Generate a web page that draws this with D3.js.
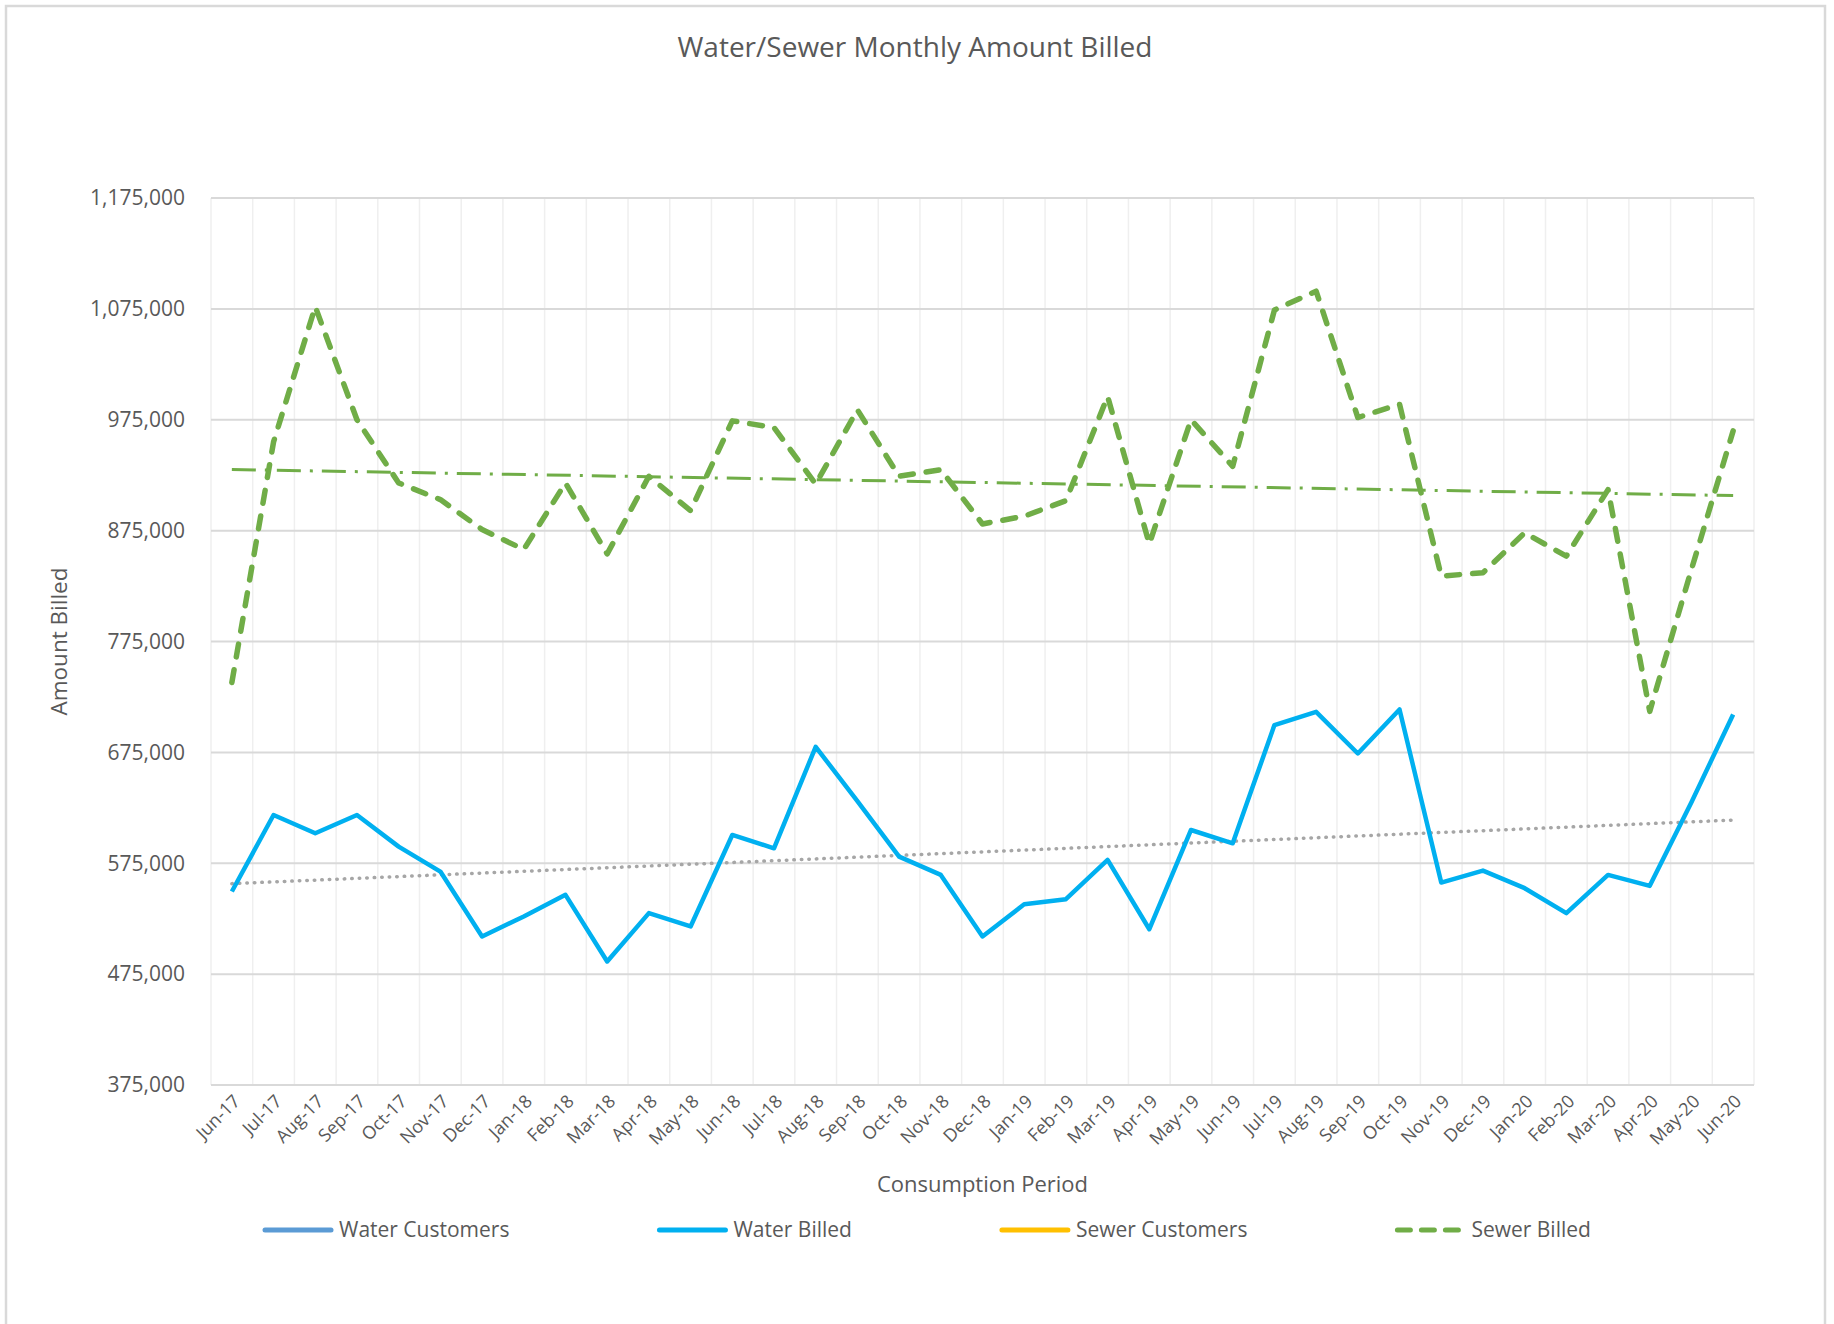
<!DOCTYPE html>
<html>
<head>
  <meta charset="utf-8">
  <script src="https://d3js.org/d3.v7.min.js"></script>
  <style>
    body { margin: 0; background: #fff; }
    text { font-family: "Open Sans", sans-serif; fill: #595959; }
  </style>
</head>
<body>
<div id="chart"></div>
<script>
  // categories (consumption period)
  var months = ["Jun-17","Jul-17","Aug-17","Sep-17","Oct-17","Nov-17","Dec-17",
    "Jan-18","Feb-18","Mar-18","Apr-18","May-18","Jun-18","Jul-18","Aug-18","Sep-18","Oct-18","Nov-18","Dec-18",
    "Jan-19","Feb-19","Mar-19","Apr-19","May-19","Jun-19","Jul-19","Aug-19","Sep-19","Oct-19","Nov-19","Dec-19",
    "Jan-20","Feb-20","Mar-20","Apr-20","May-20","Jun-20"];

  // amount billed
  var waterBilled = [549500, 618500, 602000, 618500, 590000, 567500, 509000,
    527000, 546500, 486400, 530000, 518000, 600500, 588500, 680000, 631000, 581000, 564500, 509000,
    538000, 542600, 578000, 515500, 605000, 593000, 699600, 711600, 674000, 713700, 557600, 568400,
    552500, 530000, 564500, 554600, 630000, 709200];

  var sewerBilled = [738000, 955000, 1077000, 975000, 918000, 903000, 876000,
    858000, 918000, 854000, 924000, 893000, 974000, 968000, 917000, 984000, 924000, 930000, 881000,
    888000, 902000, 996000, 863000, 975000, 933000, 1074000, 1091000, 977000, 989000, 834000, 837000,
    873000, 852000, 912000, 712000, 840000, 965000];

  var seriesNames = ["Water Customers", "Water Billed", "Sewer Customers", "Sewer Billed"];
  var seriesColors = ["#5b9bd5", "#00b0f0", "#ffc000", "#70ad47"];
  var yTicks = [375000, 475000, 575000, 675000, 775000, 875000, 975000, 1075000, 1175000];

  var width = 1834, height = 1324;
  var plotLeft = 211, plotRight = 1754, plotTop = 198, plotBottom = 1085;

  var svg = d3.select("#chart").append("svg")
    .attr("width", width)
    .attr("height", height);

  svg.append("rect")
    .attr("x", 6).attr("y", 6)
    .attr("width", 1819).attr("height", 1340)
    .attr("fill", "#fff")
    .attr("stroke", "#d9d9d9")
    .attr("stroke-width", 2.5);

  var x = d3.scaleBand().domain(months).range([plotLeft, plotRight]);
  var y = d3.scaleLinear().domain([375000, 1175000]).range([plotBottom, plotTop]);
  var cx = function(m) { return x(m) + x.bandwidth() / 2; };

  // vertical gridlines at category boundaries
  var bounds = months.map(function(m) { return x(m); }).concat([plotRight]);
  svg.append("g").selectAll("line")
    .data(bounds)
    .enter().append("line")
    .attr("x1", function(d) { return d; })
    .attr("x2", function(d) { return d; })
    .attr("y1", plotTop).attr("y2", plotBottom)
    .attr("stroke", "#efefef")
    .attr("stroke-width", 1.5);

  // horizontal gridlines
  svg.append("g").selectAll("line")
    .data(yTicks)
    .enter().append("line")
    .attr("x1", plotLeft).attr("x2", plotRight)
    .attr("y1", function(d) { return y(d); })
    .attr("y2", function(d) { return y(d); })
    .attr("stroke", "#d9d9d9")
    .attr("stroke-width", 2);

  // y tick labels
  svg.append("g").selectAll("text")
    .data(yTicks)
    .enter().append("text")
    .attr("x", plotLeft - 26)
    .attr("y", function(d) { return y(d); })
    .attr("dy", "0.35em")
    .attr("text-anchor", "end")
    .style("font-size", "21px")
    .text(function(d) { return d3.format(",")(d); });

  // x tick labels, rotated
  svg.append("g").selectAll("text")
    .data(months)
    .enter().append("text")
    .attr("text-anchor", "end")
    .attr("dy", "0.35em")
    .attr("transform", function(d) { return "translate(" + (cx(d) + 5) + "," + (plotBottom + 13) + ") rotate(-45)"; })
    .style("font-size", "18px")
    .text(function(d) { return d; });

  // linear trend from least squares
  function trend(vals) {
    var n = vals.length;
    var mx = d3.mean(d3.range(n)), my = d3.mean(vals);
    var sxy = 0, sxx = 0;
    vals.forEach(function(v, i) { sxy += (i - mx) * (v - my); sxx += (i - mx) * (i - mx); });
    var b = sxy / sxx, a = my - b * mx;
    return [a, a + b * (n - 1)];
  }

  var line = d3.line()
    .x(function(d, i) { return cx(months[i]); })
    .y(function(d) { return y(d); });

  var waterTrend = trend(waterBilled);
  var sewerTrend = trend(sewerBilled);

  svg.append("line")
    .attr("x1", cx(months[0])).attr("x2", cx(months[months.length - 1]))
    .attr("y1", y(sewerTrend[0])).attr("y2", y(sewerTrend[1]))
    .attr("stroke", "#70ad47")
    .attr("stroke-width", 3)
    .attr("stroke-dasharray", "24,9,3,9");

  svg.append("line")
    .attr("x1", cx(months[0])).attr("x2", cx(months[months.length - 1]))
    .attr("y1", y(waterTrend[0])).attr("y2", y(waterTrend[1]))
    .attr("stroke", "#a6a6a6")
    .attr("stroke-width", 3.5)
    .attr("stroke-linecap", "round")
    .attr("stroke-dasharray", "0.5,7");

  svg.append("path")
    .datum(waterBilled)
    .attr("d", line)
    .attr("fill", "none")
    .attr("stroke", "#00b0f0")
    .attr("stroke-width", 4.5)
    .attr("stroke-linejoin", "round");

  svg.append("path")
    .datum(sewerBilled)
    .attr("d", line)
    .attr("fill", "none")
    .attr("stroke", "#70ad47")
    .attr("stroke-width", 5.5)
    .attr("stroke-linecap", "round")
    .attr("stroke-linejoin", "round")
    .attr("stroke-dasharray", "13,13");

  // titles
  svg.append("text")
    .attr("x", 915).attr("y", 57)
    .attr("text-anchor", "middle")
    .style("font-size", "28px")
    .text("Water/Sewer Monthly Amount Billed");

  svg.append("text")
    .attr("x", (plotLeft + plotRight) / 2).attr("y", 1192)
    .attr("text-anchor", "middle")
    .style("font-size", "22px")
    .text("Consumption Period");

  svg.append("text")
    .attr("transform", "translate(67," + ((plotTop + plotBottom) / 2) + ") rotate(-90)")
    .attr("text-anchor", "middle")
    .style("font-size", "22.5px")
    .text("Amount Billed");

  // legend, laid out left to right
  var lx = 263;
  seriesNames.forEach(function(name, i) {
    var g = svg.append("g");
    g.append("line")
      .attr("x1", lx + 2).attr("x2", lx + 68)
      .attr("y1", 1230).attr("y2", 1230)
      .attr("stroke", seriesColors[i])
      .attr("stroke-width", 5)
      .attr("stroke-linecap", "round")
      .attr("stroke-dasharray", name == "Sewer Billed" ? "13,11" : null);
    var t = g.append("text")
      .attr("x", lx + 76).attr("y", 1230)
      .attr("dy", "0.35em")
      .style("font-size", "21px")
      .text(name);
    lx = lx + 76 + t.node().getComputedTextLength() + 148;
  });
</script>
</body>
</html>
